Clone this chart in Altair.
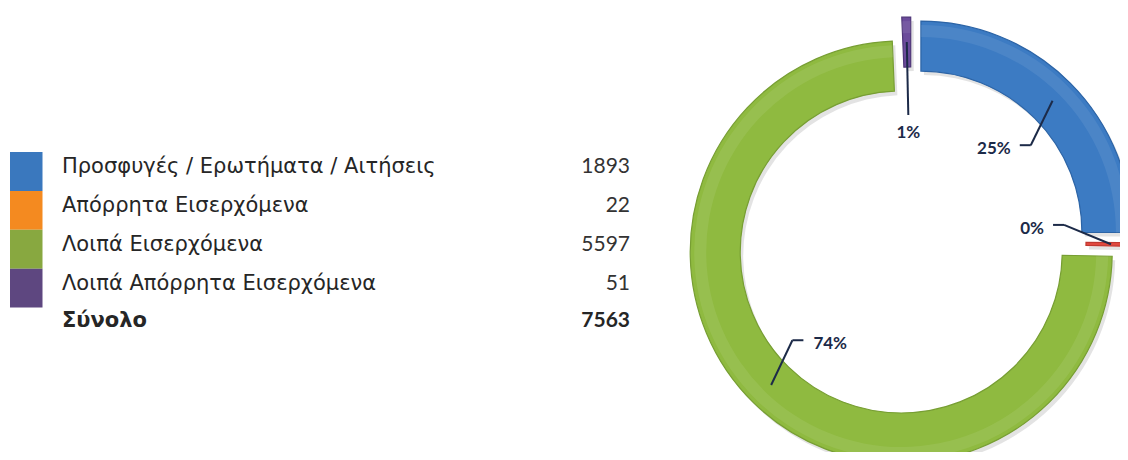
import altair as alt
import pandas as pd

# ---- data ----
categories = ["Προσφυγές / Ερωτήματα / Αιτήσεις", "Απόρρητα Εισερχόμενα",
              "Λοιπά Εισερχόμενα", "Λοιπά Απόρρητα Εισερχόμενα"]
values = [1893, 22, 5597, 51]
total_label = "Σύνολο"
total_value = 7563

# ---- style / layout ----
legend_colors = ["#3A78BE", "#F48A20", "#88A840", "#5E4780"]
slice_colors = ["#3C7BC3", "#E0483E", "#8FBA40", "#6B4B9B"]
slice_strokes = ["#2C64A6", "#C03830", "#779E33", "#4F3679"]
leader_tilt_deg = [6, -7, 6, 0]

CX, CY = 263, 234
R_OUT, R_IN = 211, 161
EXPLODE = 14
LABEL_COLOR = "#1C2A48"

df = pd.DataFrame({
    "idx": list(range(len(categories))),
    "label": categories,
    "value": values,
    "lcolor": legend_colors,
    "scolor": slice_colors,
    "sstroke": slice_strokes,
    "tilt": leader_tilt_deg,
})

# ---------- left: legend table ----------
leg_rows = pd.DataFrame({
    "row": list(range(len(categories))) + [len(categories)],
    "label": categories + [total_label],
    "num": [str(v) for v in values] + [str(total_value)],
    "lcolor": legend_colors + [""],
    "is_total": [False] * len(categories) + [True],
})
leg_rows["row_end"] = leg_rows["row"] + 1

yscale = alt.Scale(domain=[0, 5], range=[144, 338.5])
lbase = alt.Chart(leg_rows)
LFONT = "DejaVu Sans"

rects = lbase.transform_filter("!datum.is_total").mark_rect().encode(
    x=alt.value(2), x2=alt.value(34.5),
    y=alt.Y("row:Q", scale=yscale, axis=None), y2="row_end:Q",
    color=alt.Color("lcolor:N", scale=None),
)
lab = lbase.transform_filter("!datum.is_total").mark_text(
    align="left", baseline="alphabetic", dy=21, font=LFONT, fontSize=21, color="#262626"
).encode(x=alt.value(54), y=alt.Y("row:Q", scale=yscale, axis=None), text="label:N")
num = lbase.transform_filter("!datum.is_total").mark_text(
    align="right", baseline="alphabetic", dy=21, font="Lato", fontSize=21, color="#333333"
).encode(x=alt.value(622), y=alt.Y("row:Q", scale=yscale, axis=None), text="num:N")
lab_t = lbase.transform_filter("datum.is_total").mark_text(
    align="left", baseline="alphabetic", dy=19, font=LFONT, fontSize=21,
    fontWeight="bold", color="#262626"
).encode(x=alt.value(54), y=alt.Y("row:Q", scale=yscale, axis=None), text="label:N")
num_t = lbase.transform_filter("datum.is_total").mark_text(
    align="right", baseline="alphabetic", dy=19, font="Lato", fontSize=21,
    fontWeight="bold", color="#262626"
).encode(x=alt.value(622), y=alt.Y("row:Q", scale=yscale, axis=None), text="num:N")

left = alt.layer(rects, lab, num, lab_t, num_t).properties(width=640, height=444)

# ---------- right: exploded donut ----------
base = alt.Chart(df).transform_window(
    cum="sum(value)", sort=[alt.SortField("idx")], frame=[None, 0]
).transform_joinaggregate(tot="sum(value)").transform_calculate(
    a0="(datum.cum - datum.value) / datum.tot * 2 * PI",
    a1="datum.cum / datum.tot * 2 * PI",
).transform_calculate(
    mid="(datum.a0 + datum.a1) / 2",
).transform_calculate(
    cx=f"{CX} + {EXPLODE} * sin(datum.mid)",
    cy=f"{CY} - {EXPLODE} * cos(datum.mid)",
    side="sin(datum.mid) > 0.2 ? 1 : (sin(datum.mid) < -0.2 ? -1 : 0)",
    pct="format(datum.value / datum.tot, '.0%')",
    ox=f"{CX} + {(R_OUT + R_IN) / 2 + EXPLODE} * sin(datum.mid)",
    oy=f"{CY} - {(R_OUT + R_IN) / 2 + EXPLODE} * cos(datum.mid)",
).transform_calculate(
    rb="datum.side == 0 ? 127 : 154",
    bang="datum.mid + datum.tilt * PI / 180",
    shx="datum.cx + 3",
    shy="datum.cy + 4",
).transform_calculate(
    bx=f"{CX} + datum.rb * sin(datum.bang)",
    by=f"{CY} - datum.rb * cos(datum.bang)",
).transform_calculate(
    sx="datum.bx - datum.side * 11",
)

X = lambda f: alt.X(f, scale=None, axis=None)
Y = lambda f: alt.Y(f, scale=None, axis=None)

shadow = base.mark_arc(innerRadius=R_IN, outerRadius=R_OUT, clip=True,
                       color="#9A9A9A", opacity=0.28).encode(
    theta=alt.Theta("a0:Q", scale=None), theta2="a1:Q",
    x=X("shx:Q"), y=Y("shy:Q"),
)
arcs = base.mark_arc(innerRadius=R_IN, outerRadius=R_OUT, clip=True, strokeWidth=1.2).encode(
    theta=alt.Theta("a0:Q", scale=None), theta2="a1:Q",
    x=X("cx:Q"), y=Y("cy:Q"),
    color=alt.Color("scolor:N", scale=None),
    stroke=alt.Stroke("sstroke:N", scale=None),
)
hilite = base.mark_arc(innerRadius=R_OUT - 16, outerRadius=R_OUT - 4, clip=True,
                       color="white", opacity=0.08).encode(
    theta=alt.Theta("a0:Q", scale=None), theta2="a1:Q",
    x=X("cx:Q"), y=Y("cy:Q"),
)

lead1 = base.mark_rule(color=LABEL_COLOR, strokeWidth=2).encode(
    x=X("ox:Q"), y=Y("oy:Q"), x2="bx:Q", y2="by:Q")
lead2 = base.transform_filter("datum.side != 0").mark_rule(color=LABEL_COLOR, strokeWidth=2).encode(
    x=X("bx:Q"), y=Y("by:Q"), x2="sx:Q", y2="by:Q")

txt_r = base.transform_filter("datum.side == 1").mark_text(
    align="right", baseline="middle", dx=-9, dy=4, font="Lato", fontSize=17,
    fontWeight="bold", color=LABEL_COLOR
).encode(x=X("sx:Q"), y=Y("by:Q"), text="pct:N")
txt_l = base.transform_filter("datum.side == -1").mark_text(
    align="left", baseline="middle", dx=10, dy=4, font="Lato", fontSize=17,
    fontWeight="bold", color=LABEL_COLOR
).encode(x=X("sx:Q"), y=Y("by:Q"), text="pct:N")
txt_t = base.transform_filter("datum.side == 0").mark_text(
    align="center", baseline="middle", dy=18, font="Lato", fontSize=17,
    fontWeight="bold", color=LABEL_COLOR
).encode(x=X("bx:Q"), y=Y("by:Q"), text="pct:N")

right = alt.layer(shadow, arcs, hilite, lead1, lead2, txt_r, txt_l, txt_t).properties(width=472, height=444)

chart = alt.hconcat(left, right, spacing=0).properties(padding=0).configure_view(stroke=None)

chart.save("out.html", embed_options={"renderer": "svg", "actions": False})
